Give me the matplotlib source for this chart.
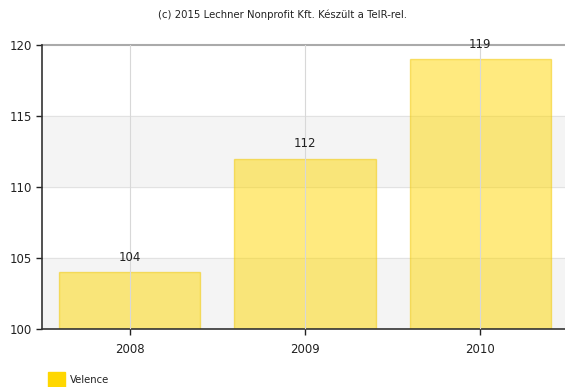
import matplotlib.pyplot as plt
import matplotlib.patches as mpatches

years = ['2008', '2009', '2010']
values = [104, 112, 119]
series_name = 'Velence'
title = '(c) 2015 Lechner Nonprofit Kft. Készült a TeIR-rel.'

fig = plt.figure(figsize=(5.65, 3.87), dpi=100)
ax = fig.add_axes([42 / 565, 1 - 329 / 387, 526 / 565, 284 / 387])

# alternating background bands
for lo in range(100, 120, 10):
    ax.axhspan(lo, lo + 5, color='#f4f4f4', zorder=0)
for y in range(105, 120, 5):
    ax.axhline(y, color='#e2e2e2', lw=0.8, zorder=1)
ax.axhline(120, color='#aaaaaa', lw=1.5, zorder=1, clip_on=False)

x = range(len(years))
ax.bar(x, [v - 100 for v in values], bottom=100, width=0.805,
       color='#ffd700', alpha=0.5, edgecolor='#f2c800', lw=1, zorder=2)
for i in x:
    ax.axvline(i, color='#d8d8d8', lw=0.8, zorder=3)
    ax.text(i, values[i] + 0.6, str(values[i]), ha='center', va='bottom',
            fontsize=8.5, color='#222222', zorder=4)

ax.set_xlim(-0.5, 2.5)
ax.set_ylim(100, 120)
ax.set_yticks(range(100, 121, 5))
ax.set_xticks(list(x))
ax.set_xticklabels(years)
ax.tick_params(labelsize=8.5, colors='#222222', length=4, width=1)
ax.tick_params(axis='x', pad=6)
for s in ['top', 'right']:
    ax.spines[s].set_visible(False)
ax.spines['left'].set_color('#333333')
ax.spines['bottom'].set_color('#333333')
ax.spines['left'].set_linewidth(1.2)
ax.spines['bottom'].set_linewidth(1.2)

fig.text(283 / 565, 1 - 15 / 387, title, ha='center', va='center', fontsize=7.3, color='#222222')

fig.patches.append(mpatches.Rectangle((48 / 565, 0), 17 / 565, 15 / 387,
                                      transform=fig.transFigure, color='#ffd700'))
fig.text(70 / 565, 1 - 380 / 387, series_name, ha='left', va='center', fontsize=7.3, color='#222222')

fig.savefig('out.png', dpi=100)
